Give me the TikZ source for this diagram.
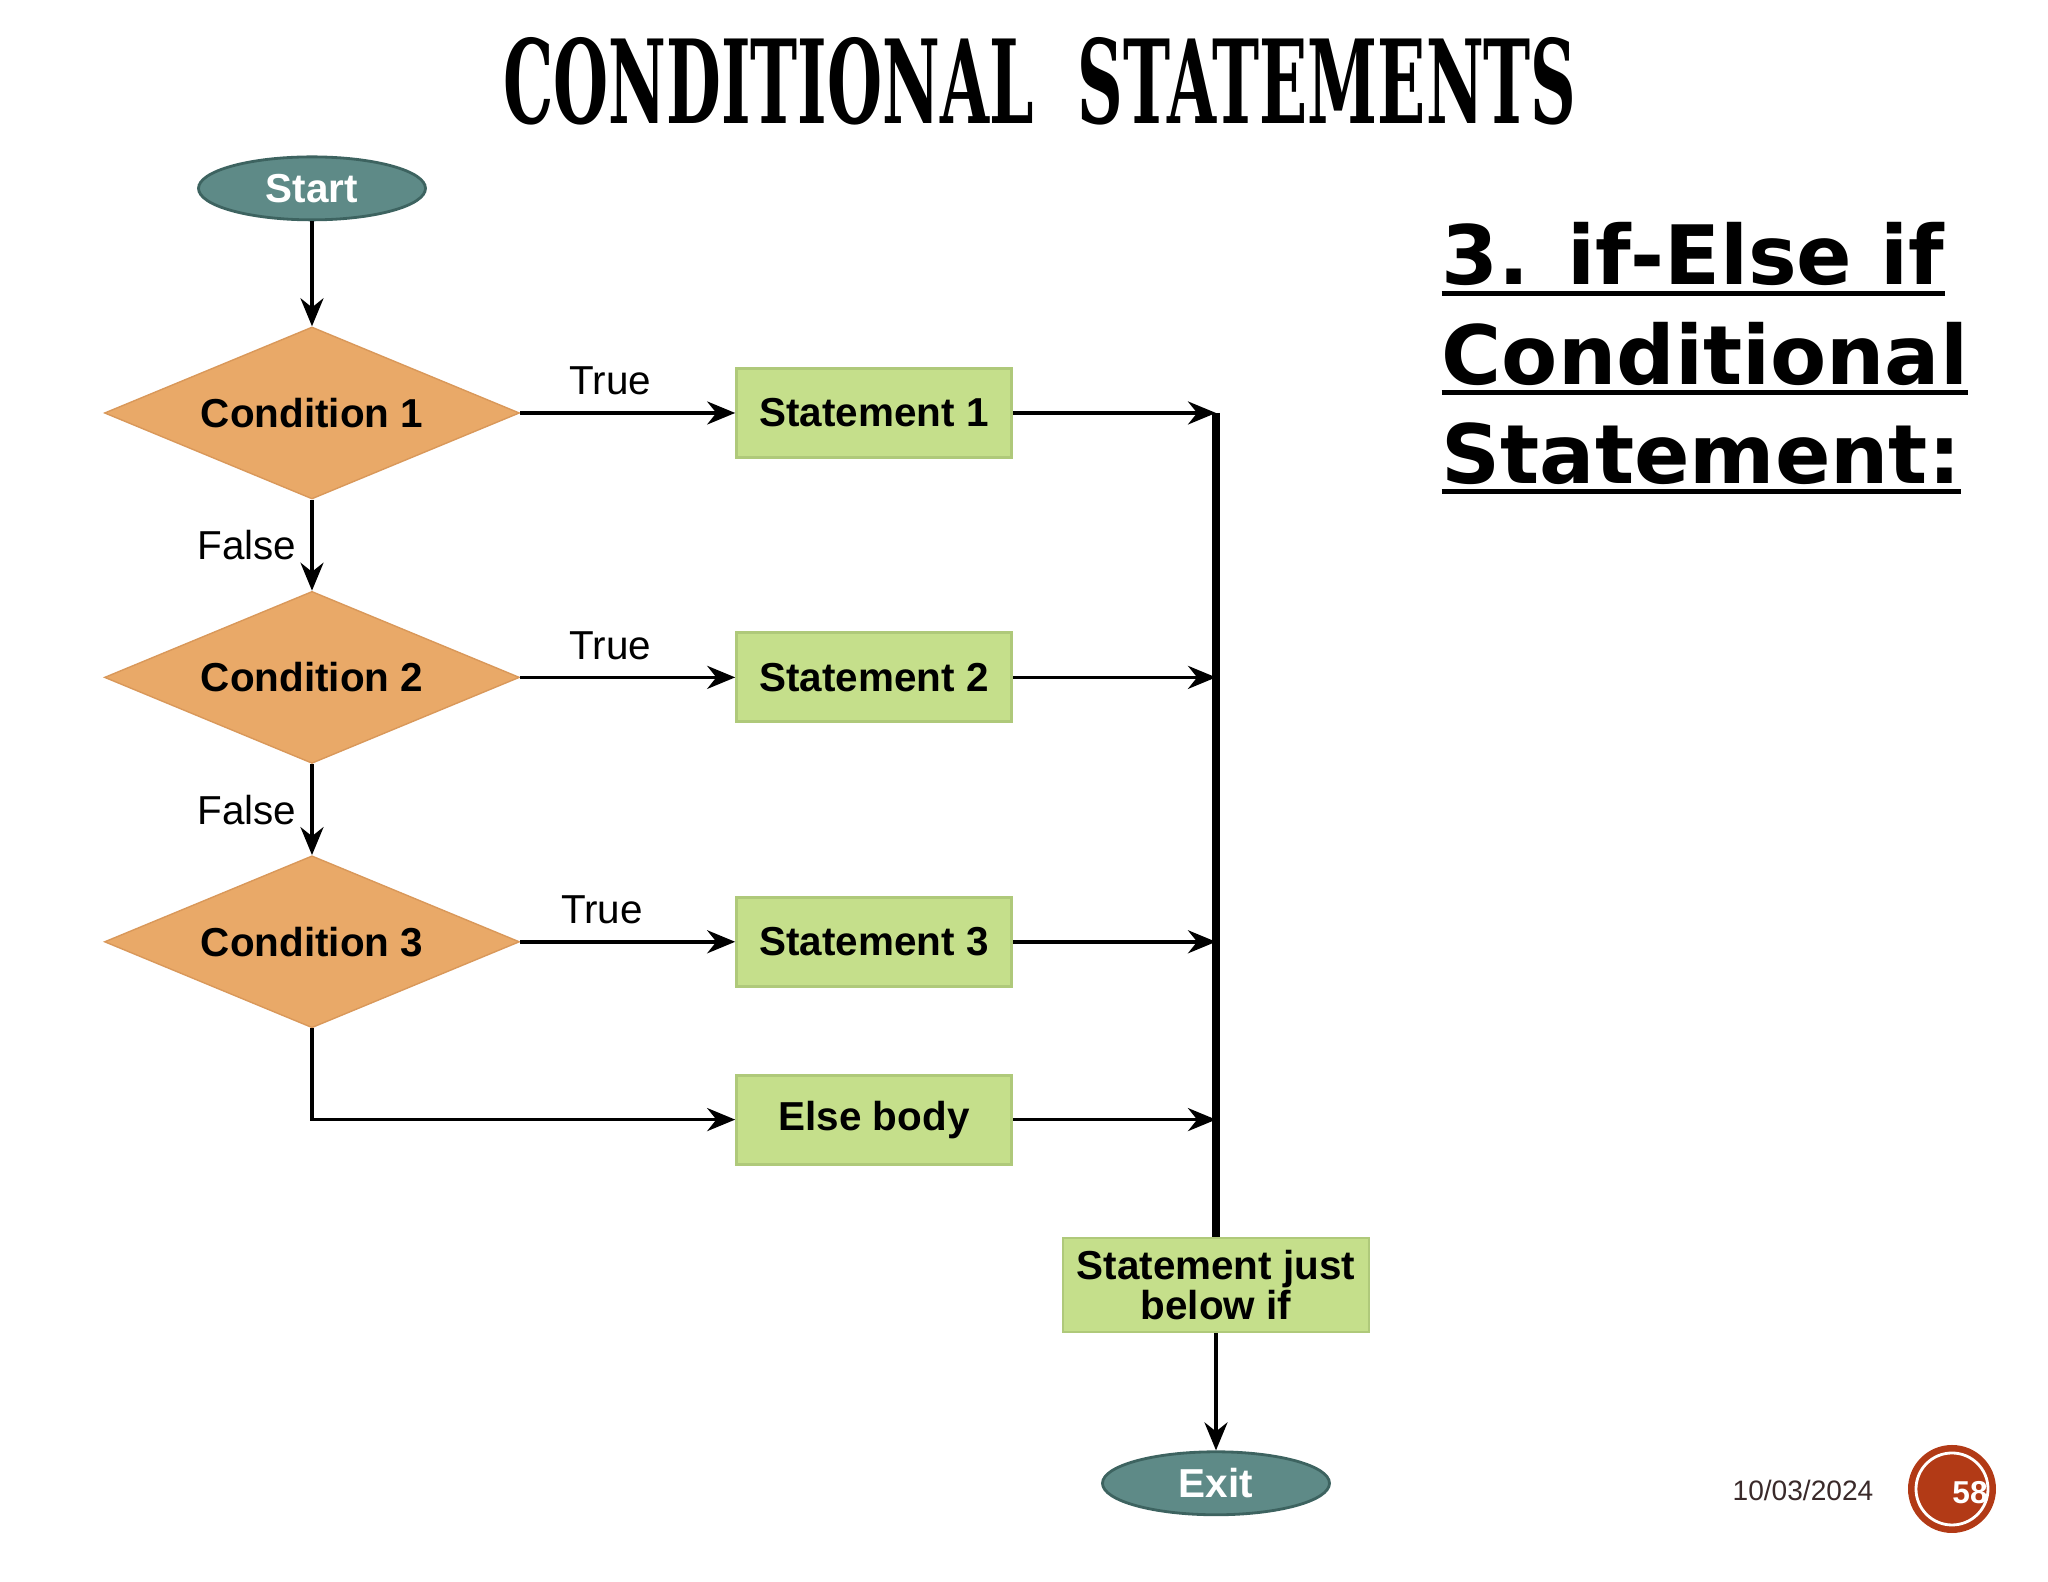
\documentclass[tikz,border=0pt]{standalone}
\usepackage{fontspec}
\setmainfont{Liberation Sans}
\newfontfamily\titlefont[FakeStretch=0.545]{DejaVu Serif}
\newfontfamily\headfont{DejaVu Sans}
\usetikzlibrary{arrows.meta,positioning,shapes.geometric}
\definecolor{termfill}{HTML}{5E8A87}
\definecolor{termline}{HTML}{3D6360}
\definecolor{decfill}{HTML}{E9A968}
\definecolor{decline}{HTML}{D9985A}
\definecolor{boxfill}{HTML}{C5DF8B}
\definecolor{boxline}{HTML}{AFC97A}
\definecolor{datecol}{HTML}{3A2A2A}
\definecolor{badge}{HTML}{B23A16}
\newcommand{\ulword}[1]{{\setbox0\hbox{#1}\rlap{\rule[-3.2pt]{\wd0}{1.4pt}}\box0}}

\begin{document}
\begin{tikzpicture}[
    node distance=0.91cm and 2.15cm,
    term/.style={
        ellipse,
        draw=termline,
        fill=termfill,
        line width=0.8pt,
        minimum width=2.27cm,
        minimum height=0.63cm,
        inner sep=0pt,
        text=white,
        font=\fontsize{11.5}{12}\selectfont\bfseries
    },
    decision/.style={
        diamond,
        aspect=2.5,
        draw=decline,
        fill=decfill,
        minimum width=4.15cm,
        minimum height=1.72cm,
        inner sep=0pt,
        font=\fontsize{11.5}{12}\selectfont\bfseries
    },
    stmtbox/.style={
        rectangle,
        draw=boxline,
        fill=boxfill,
        line width=0.8pt,
        minimum width=2.75cm,
        minimum height=0.89cm,
        inner sep=0pt,
        align=center,
        font=\fontsize{11.5}{11.5}\selectfont\bfseries
    },
    lbl/.style={inner sep=0pt, font=\fontsize{11.5}{12}\selectfont},
    arrow/.style={-{Stealth[length=2.8mm,width=2.3mm]}, line width=1.05pt}
]
\useasboundingbox (0,0) rectangle (20.48,15.82);

\node[font=\titlefont\fontsize{33}{33}\selectfont\bfseries] (title) at (10.40,15.01) {CONDITIONAL\ \ STATEMENTS};

\node[decision] (cond1) at (3.12,11.69) {Condition 1};
\node[decision, below=of cond1] (cond2) {Condition 2};
\node[decision, below=of cond2] (cond3) {Condition 3};
\node[term, above=1.05cm of cond1] (start) {Start};
\node[stmtbox, right=of cond1] (stmt1) {Statement 1};
\node[stmtbox, right=of cond2] (stmt2) {Statement 2};
\node[stmtbox, right=of cond3] (stmt3) {Statement 3};
\node[stmtbox, below=0.86cm of stmt3] (elsebody) {Else body};
\node[stmtbox, minimum width=3.06cm, minimum height=0.94cm] (after) at (12.16,2.97) {Statement just\\below if};
\node[term, below=1.17cm of after] (exit) {Exit};

\coordinate (bustop) at (after.north |- stmt1.east);
\draw[line width=2.2pt] (bustop) -- (after.north);

\draw[arrow] (start) -- (cond1);
\draw[arrow] (cond1) -- node[lbl, left=1.4mm] {False} (cond2);
\draw[arrow] (cond2) -- node[lbl, left=1.4mm] {False} (cond3);
\draw[arrow] (cond1) -- node[lbl, above=1.6mm, pos=0.42] {True} (stmt1);
\draw[arrow] (cond2) -- node[lbl, above=1.6mm, pos=0.42] {True} (stmt2);
\draw[arrow] (cond3) -- node[lbl, above=1.6mm, pos=0.38] {True} (stmt3);
\draw[arrow] (cond3.south) |- (elsebody.west);
\draw[arrow] (stmt1) -- (stmt1 -| bustop);
\draw[arrow] (stmt2) -- (stmt2 -| bustop);
\draw[arrow] (stmt3) -- (stmt3 -| bustop);
\draw[arrow] (elsebody) -- (elsebody -| bustop);
\draw[arrow] (after) -- (exit);

\node[anchor=north west, inner sep=0pt, align=left, font=\headfont\bfseries\fontsize{23.3}{28.2}\selectfont] (heading) at (14.41,13.60) {\ulword{3. if-Else if}\\\ulword{Conditional}\\\ulword{Statement:}};

\node[text=datecol, font=\fontsize{8}{8}\selectfont] (date) at (18.03,0.92) {10/03/2024};
\node[circle, fill=badge, minimum size=0.88cm, inner sep=0pt] (badgedot) at (19.52,0.93) {};
\draw[white, line width=0.8pt] (badgedot.center) circle (0.36cm);
\node[text=white, font=\fontsize{9}{9}\selectfont\bfseries] (pagenum) at (19.70,0.89) {58};
\end{tikzpicture}
\end{document}
